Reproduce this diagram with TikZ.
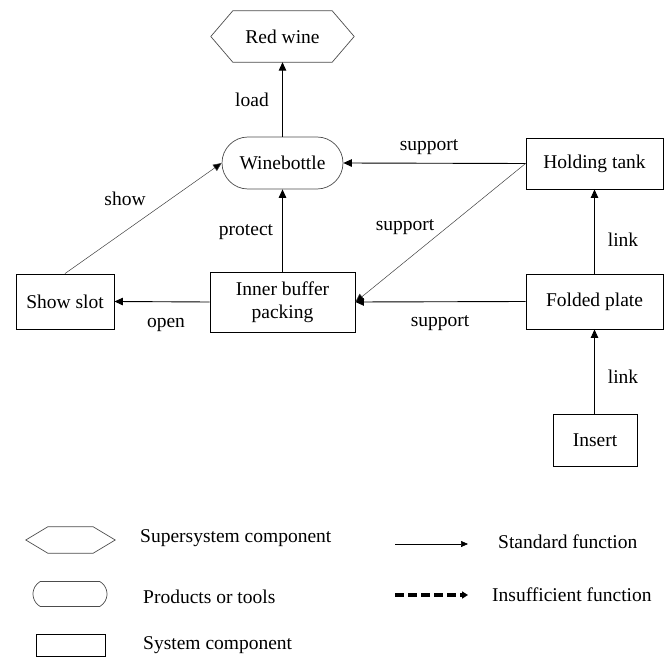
\documentclass[tikz,border=0pt]{standalone}
\usepackage{fontspec}
\setmainfont{Liberation Serif}
\usetikzlibrary{arrows.meta,shapes.misc}

\tikzset{
  x=1pt, y=-1pt,
  every node/.style={font=\fontsize{19.5}{23}\selectfont, inner sep=0pt, align=center},
  sysbox/.style={draw, line width=0.9pt, rectangle},
  prodbox/.style={draw=black!70, line width=0.7pt, rounded rectangle},
  superbox/.style={rectangle},
  lbl/.style={},
  func/.style={line width=0.9pt, -{Triangle[length=8.5pt,width=7.5pt]}},
  thinfunc/.style={line width=0.5pt, draw=black!75, -{Triangle[length=8.5pt,width=7.5pt,fill=black]}},
  weakfunc/.style={line width=3.2pt, dash pattern=on 9pt off 4pt, -{Triangle[length=6pt,width=7pt]}},
}
% hexagonal outline around a named node, corners cut in by #2
\newcommand\hexaround[2]{%
  \draw[draw=black!70, line width=0.7pt]
    (#1.west) -- ([xshift=#2]#1.north west) -- ([xshift=-#2]#1.north east)
    -- (#1.east) -- ([xshift=-#2]#1.south east) -- ([xshift=#2]#1.south west) -- cycle;}

\begin{document}
\begin{tikzpicture}
\useasboundingbox (0,0) rectangle (670,658);

% components
\node[superbox, minimum width=143, minimum height=51] (red) at (282.5,36.5) {Red wine};
\hexaround{red}{22}
\node[prodbox, minimum width=121, minimum height=52] (wine) at (282.5,163) {Winebottle};
\node[sysbox, minimum width=98, minimum height=55] (show) at (65,301.5) {Show slot};
\node[sysbox, minimum width=145, minimum height=60] (inner) at (282.5,302) {Inner buffer\\packing};
\node[sysbox, minimum width=137, minimum height=51] (hold) at (594.5,163.5) {Holding tank};
\node[sysbox, minimum width=137, minimum height=55] (fold) at (594.5,301.5) {Folded plate};
\node[sysbox, minimum width=84, minimum height=52] (insert) at (595,440) {Insert};

% functions
\draw[func] (wine.north) -- (red.south);
\draw[func] (inner.north) -- (wine.south);
\draw[func] (hold.west) -- (wine.east);
\draw[thinfunc] (hold.west) -- (inner.east);
\draw[func] (fold.west) -- (inner.east);
\draw[func] (inner.west) -- (show.east);
\draw[thinfunc] (show.north) -- (wine.west);
\draw[func] (fold.north) -- (hold.south);
\draw[func] (insert.north -| fold.north) -- (fold.south);

% function labels
\node[lbl] (lload) at (252,100) {load};
\node[lbl] (lprot) at (246,232) {protect};
\node[lbl] (lshow) at (125,199) {show};
\node[lbl] (lopen) at (166,325) {open};
\node[lbl] (lsup1) at (429,147) {support};
\node[lbl] (lsup2) at (405,227) {support};
\node[lbl] (lsup3) at (440,323) {support};
\node[lbl] (llink1) at (623,240) {link};
\node[lbl] (llink2) at (623,377) {link};

% legend
\node[superbox, minimum width=89, minimum height=26] (khex) at (70.5,540) {};
\hexaround{khex}{22}
\node[anchor=west] (thex) at (140,538) {Supersystem component};
\node[prodbox, rounded rectangle arc length=120, minimum width=74, minimum height=25] (kprod) at (70,594) {};
\node[anchor=west] (tprod) at (143,597) {Products or tools};
\node[sysbox, line width=0.7pt, minimum width=69, minimum height=22] (ksys) at (70.5,645) {};
\node[anchor=west] (tsys) at (143,645) {System component};

\coordinate (s1) at (395,544);
\coordinate (s2) at (468,544);
\draw[line width=0.6pt, -{Triangle[length=7pt,width=6pt]}] (s1) -- (s2);
\node[anchor=west] (tstd) at (498,542) {Standard function};
\coordinate (d1) at (395,595);
\coordinate (d2) at (468,595);
\draw[weakfunc] (d1) -- (d2);
\node[anchor=west] (tins) at (492,595) {Insufficient function};
\end{tikzpicture}
\end{document}
